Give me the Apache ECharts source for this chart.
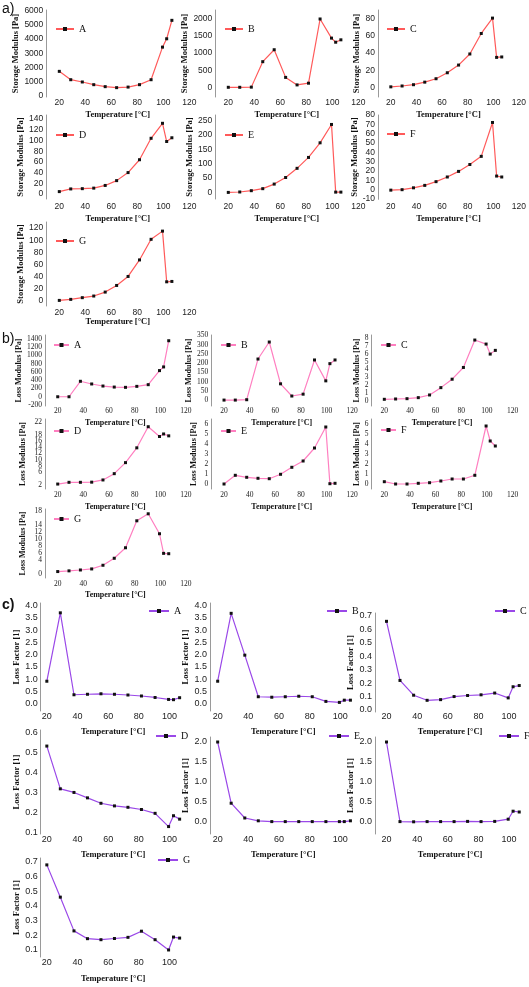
<!DOCTYPE html>
<html><head><meta charset="utf-8">
<script src="https://cdn.jsdelivr.net/npm/echarts@6/dist/echarts.min.js"></script>
<style>html,body{margin:0;padding:0;background:#fff}#c{width:529px;height:987px}</style>
</head><body><div id="c"></div><script>
// Temperature [°C] of the measurement points (shared by all panels)
const temperature = [20, 28.8, 37.7, 46.5, 55.3, 64.1, 72.9, 81.7, 90.6, 99.4, 102.6, 106.6];

// a) Storage modulus [Pa]
const storageA = [1720, 1130, 970, 780, 640, 570, 610, 780, 1130, 3430, 4020, 5320];
const storageB = [0, 0, 5, 750, 1100, 290, 70, 120, 2000, 1440, 1320, 1390];
const storageC = [0.5, 1.5, 3, 6, 10, 17, 26, 39, 63, 81, 35, 35.5];
const storageD = [4.5, 9.5, 10, 11, 16, 25, 40, 64, 104, 132, 98, 105];
const storageE = [0, 1.5, 6, 13, 29, 52, 84, 122, 173, 237, 1, 1];
const storageF = [-0.5, 0, 2, 4.6, 8.6, 13.6, 19.6, 27, 35.7, 72, 14.6, 13.6];
const storageG = [1, 2.7, 5.5, 8.2, 14.7, 25.6, 40.4, 67.6, 101.5, 115, 31.6, 32.2];

// b) Loss modulus [Pa]
const lossA = [0, 0, 375, 310, 260, 235, 228, 252, 293, 634, 723, 1358];
const lossB = [0, 0, 2, 222, 314, 88, 22, 32, 217, 104, 197, 217];
const lossC = [0.22, 0.26, 0.3, 0.43, 0.77, 1.7, 2.77, 4.26, 7.74, 7.23, 5.96, 6.43];
const lossD = [2.3, 2.85, 2.85, 2.9, 3.6, 5.6, 9.1, 13.8, 20.5, 17.4, 18.2, 17.6];
const lossE = [0, 0.87, 0.67, 0.57, 0.53, 0.97, 1.67, 2.3, 3.6, 5.7, 0.03, 0.07];
const lossF = [0.23, 0, 0, 0.07, 0.13, 0.3, 0.5, 0.5, 0.87, 5.8, 4.3, 3.8];
const lossG = [0.7, 0.9, 1.15, 1.45, 2.5, 4.5, 7.5, 15.2, 17.2, 11.5, 5.9, 5.8];

// c) Loss factor [1]
const factorA = [0.92, 3.7, 0.37, 0.39, 0.41, 0.39, 0.36, 0.32, 0.26, 0.18, 0.17, 0.25];
const factorB = [0.92, 3.68, 1.98, 0.29, 0.27, 0.29, 0.31, 0.29, 0.1, 0.06, 0.15, 0.15];
const factorC = [0.66, 0.22, 0.11, 0.072, 0.077, 0.1, 0.108, 0.113, 0.126, 0.09, 0.173, 0.182];
const factorD = [0.533, 0.32, 0.302, 0.275, 0.248, 0.235, 0.228, 0.217, 0.198, 0.132, 0.186, 0.169];
const factorE = [2.0, 0.47, 0.1, 0.03, 0.01, 0.01, 0.01, 0.01, 0.01, 0.01, 0.01, 0.03];
const factorF = [2.0, 0.01, 0.005, 0.01, 0.01, 0.01, 0.015, 0.01, 0.015, 0.07, 0.27, 0.25];
const factorG = [0.68, 0.46, 0.23, 0.177, 0.17, 0.178, 0.186, 0.228, 0.17, 0.1, 0.188, 0.181];

// Tick labels
const tempTicksAB = [20, 40, 60, 80, 100, 120];
const tempTicksC = [20, 40, 60, 80, 100];
const ticksStorageA = [0, 1000, 2000, 3000, 4000, 5000, 6000];
const ticksStorageB = [0, 500, 1000, 1500, 2000];
const ticksStorageC = [0, 20, 40, 60, 80];
const ticksStorageD = [0, 20, 40, 60, 80, 100, 120, 140];
const ticksStorageE = [0, 50, 100, 150, 200, 250];
const ticksStorageF = [-10, 0, 10, 20, 30, 40, 50, 60, 70, 80];
const ticksStorageG = [0, 20, 40, 60, 80, 100, 120];
const ticksLossA = [-200, 0, 200, 400, 600, 800, 1000, 1200, 1400];
const ticksLossB = [0, 50, 100, 150, 200, 250, 300, 350];
const ticksLossC = [0, 1, 2, 3, 4, 5, 6, 7, 8];
const ticksLossD = [2, 4, 6, 8, 10, 12, 14, 16, 18, 20, 22];
const ticksLossEF = [0, 1, 2, 3, 4, 5, 6];
const ticksLossG = [0, 2, 4, 6, 8, 10, 12, 14, 16, 18];
const ticksFactorAB = [0, 0.5, 1.0, 1.5, 2.0, 2.5, 3.0, 3.5, 4.0];
const ticksFactorC = [0, 0.1, 0.2, 0.3, 0.4, 0.5, 0.6, 0.7];
const ticksFactorD = [0.1, 0.2, 0.3, 0.4, 0.5, 0.6];
const ticksFactorEF = [0, 0.5, 1.0, 1.5, 2.0];
const ticksFactorG = [0.1, 0.2, 0.3, 0.4, 0.5, 0.6, 0.7];

// Section styles
const SEC = {
  a: {color: '#ff5a5a', yName: 'Storage Modulus [Pa]', tickFont: 'Liberation Sans', tickSize: 8.5, tickLH: 9, nameSize: 8.5, xTicks: tempTicksAB, dec: false, iconW: 18, legSize: 10},
  b: {color: '#ff7fc0', yName: 'Loss Modulus [Pa]', tickFont: 'Liberation Serif', tickSize: 7.5, tickLH: 5, nameSize: 8, xTicks: tempTicksAB, dec: false, iconW: 15, legSize: 10},
  c: {color: '#9a48e8', yName: 'Loss Factor [1]', tickFont: 'Liberation Sans', tickSize: 9, tickLH: 9, nameSize: 8.5, xTicks: tempTicksC, dec: true, iconW: 20, legSize: 10}
};

// Panel layout (pixel positions only)
const panels = [
  {s:'a', n:'A', v:storageA, t:ticksStorageA, left:46.3, top:10, bottom:97, width:143, xMin:10, xMax:120, yMin:-90, yMax:6050, yGap:19.3, xm:1.45, xg:13.75, leg:[55,31]},
  {s:'a', n:'B', v:storageB, t:ticksStorageB, left:215.3, top:10, bottom:97, width:143, xMin:10, xMax:120, yMin:-284, yMax:2263, yGap:20.3, xm:1.45, xg:13.75, leg:[224,31]},
  {s:'a', n:'C', v:storageC, t:ticksStorageC, left:378, top:10, bottom:97, width:143, xMin:10, xMax:120, yMin:-11.4, yMax:90.5, yGap:12, xm:1.45, xg:13.75, leg:[386,31]},
  {s:'a', n:'D', v:storageD, t:ticksStorageD, left:46.3, top:115, bottom:199, width:143, xMin:10, xMax:120, yMin:-9.3, yMax:147.5, yGap:17, xm:2.75, xg:15.75, leg:[55,137]},
  {s:'a', n:'E', v:storageE, t:ticksStorageE, left:215.3, top:115, bottom:199, width:143, xMin:10, xMax:120, yMin:-23, yMax:270, yGap:18.7, xm:2.75, xg:15.75, leg:[224,137]},
  {s:'a', n:'F', v:storageF, t:ticksStorageF, left:378, top:115, bottom:199.3, width:143, xMin:10, xMax:120, yMin:-10.3, yMax:80, yGap:12, xm:2.45, xg:15.45, leg:[386,136]},
  {s:'a', n:'G', v:storageG, t:ticksStorageG, left:46.3, top:222, bottom:306, width:143, xMin:10, xMax:120, yMin:-8.2, yMax:130, yGap:17, xm:1.75, xg:11.75, leg:[55,243]},

  {s:'b', n:'A', v:lossA, t:ticksLossA, left:44.9, top:335, bottom:406, width:141, xMin:10, xMax:120, yMin:-224, yMax:1497, yGap:17.6, xm:1, xg:12.7, leg:[53,347]},
  {s:'b', n:'B', v:lossB, t:ticksLossB, left:211.2, top:335, bottom:406, width:141, xMin:10, xMax:120, yMin:-32, yMax:352, yGap:13.2, xm:1, xg:12.7, leg:[220,347]},
  {s:'b', n:'C', v:lossC, t:ticksLossC, left:371.5, top:335, bottom:406, width:141, xMin:10, xMax:120, yMin:-0.63, yMax:8.38, yGap:5.8, xm:1, xg:12.7, leg:[380,347]},
  {s:'b', n:'D', v:lossD, t:ticksLossD, left:44.9, top:419, bottom:489, width:141, xMin:10, xMax:120, yMin:0.73, yMax:22.95, yGap:17.6, xm:2, xg:14, leg:[53,433]},
  {s:'b', n:'E', v:lossE, t:ticksLossEF, left:211.2, top:419, bottom:489, width:141, xMin:10, xMax:120, yMin:-0.5, yMax:6.5, yGap:13.2, xm:2, xg:14, leg:[220,433]},
  {s:'b', n:'F', v:lossF, t:ticksLossEF, left:371.5, top:419, bottom:489, width:141, xMin:10, xMax:120, yMin:-0.5, yMax:6.5, yGap:5.8, xm:2, xg:14, leg:[380,432]},
  {s:'b', n:'G', v:lossG, t:ticksLossG, left:44.9, top:509, bottom:578, width:141, xMin:10, xMax:120, yMin:-1.14, yMax:18.57, yGap:17.6, xm:2, xg:13, leg:[53,521]},

  {s:'c', n:'A', v:factorA, t:ticksFactorAB, left:40.7, top:603, bottom:711, width:144.9, xMin:16, xMax:110.5, yMin:-0.29, yMax:4.1, yGap:15.7, xm:1.5, xg:16.75, leg:[148,613]},
  {s:'c', n:'B', v:factorB, t:ticksFactorAB, left:210, top:603, bottom:711, width:146.4, xMin:15, xMax:110.5, yMin:-0.29, yMax:4.1, yGap:13, xm:1.5, xg:16.75, leg:[326,613]},
  {s:'c', n:'C', v:factorC, t:ticksFactorC, left:375, top:613, bottom:712, width:150.2, xMin:12.5, xMax:110.5, yMin:-0.015, yMax:0.722, yGap:9, xm:0.5, xg:15.75, leg:[494,613]},
  {s:'c', n:'D', v:factorD, t:ticksFactorD, left:40.7, top:730, bottom:834, width:144.9, xMin:16, xMax:110.5, yMin:0.095, yMax:0.613, yGap:15.7, xm:1.5, xg:16.75, leg:[155,738]},
  {s:'c', n:'E', v:factorE, t:ticksFactorEF, left:210, top:737, bottom:834, width:146.4, xMin:15, xMax:110.5, yMin:-0.3, yMax:2.125, yGap:13, xm:1.5, xg:16.75, leg:[328,738]},
  {s:'c', n:'F', v:factorF, t:ticksFactorEF, left:375, top:737, bottom:834, width:150.2, xMin:12.5, xMax:110.5, yMin:-0.3, yMax:2.125, yGap:9, xm:1.5, xg:16.75, leg:[498,738]},
  {s:'c', n:'G', v:factorG, t:ticksFactorG, left:40.7, top:858, bottom:957, width:144.9, xMin:16, xMax:110.5, yMin:0.052, yMax:0.727, yGap:15.7, xm:1.5, xg:17.75, leg:[157,862]}
];

const option = {animation: false, grid: [], xAxis: [], yAxis: [], series: [], legend: [],
  graphic: [
    {type: 'text', left: 2, top: 2, style: {text: 'a)', font: '14px "Liberation Sans"', fill: '#111'}},
    {type: 'text', left: 2, top: 332, style: {text: 'b)', font: '14px "Liberation Sans"', fill: '#111'}},
    {type: 'text', left: 2, top: 598, style: {text: 'c)', font: 'bold 14px "Liberation Sans"', fill: '#111'}}
  ]};

panels.forEach((p, i) => {
  const S = SEC[p.s];
  const sname = p.s + '_' + p.n;
  option.grid.push({left: p.left, top: p.top, width: p.width, height: p.bottom - p.top});
  option.xAxis.push({
    type: 'value', gridIndex: i, min: p.xMin, max: p.xMax,
    axisLine: {show: false, onZero: false}, axisTick: {show: false}, splitLine: {show: false},
    axisLabel: {customValues: S.xTicks, margin: p.xm, fontFamily: S.tickFont, fontSize: S.tickSize, color: '#222',
      showMinLabel: true, showMaxLabel: true},
    name: 'Temperature [°C]', nameLocation: 'middle', nameGap: p.xg,
    nameTextStyle: {fontFamily: 'Liberation Serif', fontWeight: 'bold', fontSize: S.nameSize, color: '#111'}
  });
  option.yAxis.push({
    type: 'value', gridIndex: i, min: p.yMin, max: p.yMax,
    axisLine: {show: true, onZero: false, lineStyle: {color: '#9a9a9a', width: 1}},
    axisTick: {show: false}, splitLine: {show: false},
    axisLabel: {customValues: p.t, margin: 3, fontFamily: S.tickFont, fontSize: S.tickSize, lineHeight: S.tickLH, color: '#222',
      showMinLabel: true, showMaxLabel: true, hideOverlap: false,
      formatter: v => S.dec ? Number(v).toFixed(1) : String(v)},
    name: S.yName, nameLocation: 'middle', nameGap: p.yGap,
    nameTextStyle: {fontFamily: 'Liberation Serif', fontWeight: 'bold', fontSize: S.nameSize, color: '#111'}
  });
  option.series.push({
    type: 'line', name: sname, xAxisIndex: i, yAxisIndex: i,
    data: temperature.map((t, k) => [t, p.v[k]]),
    symbol: 'rect', symbolSize: 3,
    itemStyle: {color: '#111'},
    lineStyle: {color: S.color, width: 1.2},
    emphasis: {disabled: true}
  });
  option.legend.push({
    data: [sname], left: p.leg[0], top: p.leg[1] - 7, padding: 0,
    itemWidth: S.iconW, itemHeight: 5, selectedMode: false,
    formatter: n => n.slice(-1),
    textStyle: {fontFamily: 'Liberation Serif', fontSize: S.legSize, color: '#111'}
  });
});

const chart = echarts.init(document.getElementById('c'), null, {renderer: 'canvas'});
chart.setOption(option);
</script></body></html>
